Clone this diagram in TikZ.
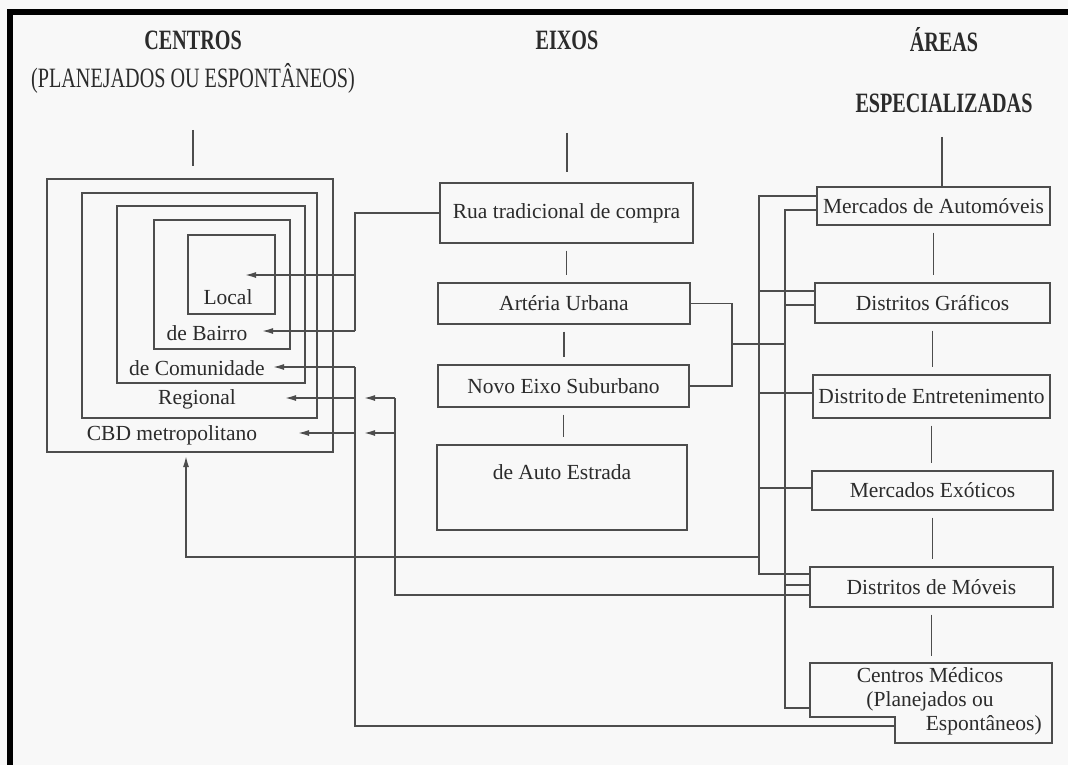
\documentclass[tikz,border=0pt]{standalone}
\usepackage{fontspec}
\setmainfont{Liberation Serif}
\newfontfamily\headfont[FakeStretch=0.72]{Liberation Serif}
\usetikzlibrary{positioning,arrows.meta,calc}
\definecolor{scanInk}{HTML}{4D4D4D}
\definecolor{scanText}{HTML}{2B2B2B}
\definecolor{scanPaper}{HTML}{F8F8F8}
\tikzset{
  ebox/.style={draw=scanInk,line width=1.4pt,text=scanText,inner sep=0pt,align=center},
  ring/.style={draw=scanInk,line width=1.4pt,inner sep=0pt},
  lbl/.style={text=scanText,inner sep=0pt},
  head/.style={text=scanText,inner sep=0pt,
    font=\headfont\fontsize{28}{30}\selectfont\bfseries},
  subhead/.style={text=scanText,inner sep=0pt,
    font=\headfont\fontsize{28}{30}\selectfont},
  ln/.style={draw=scanInk,line width=1.4pt},
  arr/.style={ln,-{Latex[length=11pt,width=6pt]}},
  gapline/.style={ln,shorten <=7pt,shorten >=7pt}
}

\begin{document}
\begin{tikzpicture}[x=1pt,y=-1pt,font=\fontsize{21.5}{24}\selectfont]
  \useasboundingbox (0,0) rectangle (1068,765);
  \fill[scanPaper] (0,0) rectangle (1068,765);
  % scan frame
  \fill[black] (7,9) rectangle (1068,15);
  \fill[black] (7,9) rectangle (13,765);

  % headers
  \node[head] (hdC) at (193,40) {CENTROS};
  \node[subhead] (hdCsub) at (193,78) {(PLANEJADOS OU ESPONTÂNEOS)};
  \node[head] (hdE) at (567,40) {EIXOS};
  \node[head] (hdA) at (944,40) {ÁREAS};
  \node[head] (hdAsub) at (944,103) {ESPECIALIZADAS};

  % centros: nested rings
  \node[ring,minimum width=286pt,minimum height=273pt] (rgCbd) at (190,315.5) {};
  \node[ring,minimum width=235pt,minimum height=225pt] (rgReg) at (199.5,305.5) {};
  \node[ring,minimum width=188pt,minimum height=177pt] (rgCom) at (211,294.5) {};
  \node[ring,minimum width=136pt,minimum height=129pt] (rgBai) at (222,284.5) {};
  \node[ring,minimum width=87pt,minimum height=79pt] (rgLoc) at (231.5,274.5) {};
  \node[lbl] (tLoc) at (228,297) {Local};
  \node[lbl] (tBai) at (207,333) {de Bairro};
  \node[lbl] (tCom) at (197,368) {de Comunidade};
  \node[lbl] (tReg) at (197,399) {Regional};
  \node[lbl] (tCbd) at (172,435) {CBD metropolitano};

  % eixos
  \node[ebox,minimum width=253pt,minimum height=60pt] (rua) at (566.5,213) {Rua tradicional de compra};
  \node[ebox,minimum width=252pt,minimum height=41pt] (arteria) at (564,303.5) {Artéria Urbana};
  \node[ebox,minimum width=251pt,minimum height=42pt] (novo) at (563.5,386) {Novo Eixo Suburbano};
  \node[ebox,minimum width=250pt,text height=34pt,text depth=51pt] (auto) at (562,487.5) {de Auto Estrada};

  % areas especializadas
  \node[ebox,minimum width=233pt,minimum height=38pt] (autom) at (933.5,206) {Mercados de Automóveis};
  \node[ebox,minimum width=235pt,minimum height=40pt] (graf) at (932.5,303) {Distritos Gráficos};
  \node[ebox,minimum width=237pt,minimum height=43pt] (entret) at (931.5,396.5) {Distrito\hspace{0.1em}de Entretenimento};
  \node[ebox,minimum width=241pt,minimum height=39pt] (exot) at (932.5,490.5) {Mercados Exóticos};
  \node[ebox,minimum width=243pt,minimum height=40pt] (moveis) at (931.5,587) {Distritos de Móveis};
  \node[lbl,align=center] (medicos) at (930,701) {Centros Médicos\\(Planejados ou\\\hspace*{5em}Espontâneos)};
  \coordinate (mNW) at (810,663);
  \coordinate (mSE) at (1052,743);
  \coordinate (mNotch) at (895,726);
  \draw[ln] (mNW) -- (mNW -| mSE) -- (mSE) -- (mNotch |- mSE) -- (mNotch |- 0,717)
    -- (mNW |- 0,717) -- cycle;

  % header stems
  \coordinate (cTop) at (193,130);
  \coordinate (eTop) at (567,133);
  \coordinate (aTop) at (942,137);
  \draw[ln,shorten >=12pt] (cTop) -- (cTop |- rgCbd.north);
  \draw[ln,shorten >=10pt] (eTop) -- (eTop |- rua.north);
  \draw[ln] (aTop) -- (aTop |- autom.north);

  % column links
  \draw[gapline] (rua.south) -- (rua.south |- arteria.north);
  \draw[gapline] (arteria.south) -- (arteria.south |- novo.north);
  \draw[gapline] (novo.south) -- (novo.south |- auto.north);
  \draw[gapline] (autom.south) -- (autom.south |- graf.north);
  \draw[gapline] (graf.south) -- (graf.south |- entret.north);
  \draw[gapline] (entret.south) -- (entret.south |- exot.north);
  \draw[gapline] (exot.south) -- (exot.south |- moveis.north);
  \draw[gapline] (moveis.south) -- (moveis.south |- mNW);

  % feeder lines and arrow tips
  \coordinate (busA) at (355,0);
  \coordinate (busB) at (395,0);
  \coordinate (busL) at (759,0);
  \coordinate (busR) at (785,0);
  \coordinate (brk) at (732,0);
  \coordinate (pLoc) at (245,275);
  \coordinate (pBai) at (262,331);
  \coordinate (pCom) at (273,367);
  \coordinate (pReg) at (285,398);
  \coordinate (pCbd) at (298,433);
  \coordinate (qReg) at (364,398);
  \coordinate (qCbd) at (364,433);
  \coordinate (pUp) at (186,456);

  % rua -> local, bairro
  \draw[ln] (rua.west) -| (busA |- pBai);
  \draw[arr] (busA |- pLoc) -- (pLoc);
  \draw[arr] (busA |- pBai) -- (pBai);

  % centros medicos -> comunidade, regional, cbd
  \draw[ln] (mNotch) -| (busA |- pCom);
  \draw[arr] (busA |- pCom) -- (pCom);
  \draw[arr] (busA |- pReg) -- (pReg);
  \draw[arr] (busA |- pCbd) -- (pCbd);

  % moveis -> regional, cbd
  \draw[ln] (moveis.west |- 0,595) -| (busB |- qReg);
  \draw[arr] (busB |- qReg) -- (qReg);
  \draw[arr] (busB |- qCbd) -- (qCbd);

  % left bus
  \draw[ln] (autom.west |- 0,196) -- (busL |- 0,196) -- (busL |- 0,574) -- (moveis.west |- 0,574);
  \draw[ln] (busL |- 0,291) -- (graf.west |- 0,291);
  \draw[ln] (busL |- 0,393) -- (entret.west |- 0,393);
  \draw[ln] (busL |- 0,488) -- (exot.west |- 0,488);
  \draw[arr] (busL |- 0,557) -| (pUp);

  % right bus
  \draw[ln] (autom.west |- 0,210) -- (busR |- 0,210) -- (busR |- 0,708) -- (mNW |- 0,708);
  \draw[ln] (busR |- 0,305) -- (graf.west |- 0,305);
  \draw[ln] (busR |- 0,585) -- (moveis.west |- 0,585);

  % arteria / novo bracket
  \draw[ln] (arteria.east) -- (brk |- arteria.east) -- (brk |- novo.east) -- (novo.east);
  \draw[ln] (brk |- 0,344) -- (busR |- 0,344);
\end{tikzpicture}
\end{document}
